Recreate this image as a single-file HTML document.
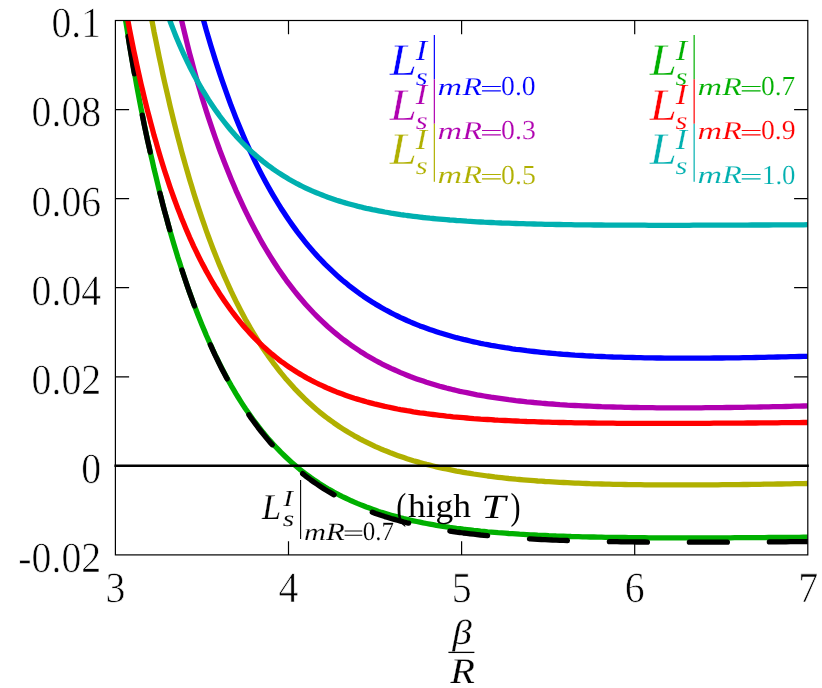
<!DOCTYPE html>
<html><head><meta charset="utf-8"><title>plot</title>
<style>html,body{margin:0;padding:0;background:#fff}svg{display:block}text{font-family:"Liberation Serif",serif;text-rendering:geometricPrecision}</style></head><body>
<svg width="822" height="688" viewBox="0 0 822 688">
<rect width="822" height="688" fill="#fff"/>
<defs><clipPath id="c"><rect x="115.4" y="20.5" width="692.4" height="534.4"/></clipPath></defs>
<g clip-path="url(#c)" fill="none" stroke-linejoin="round">
<path d="M183.6,-59.9 L185.6,-51.1 L187.6,-42.3 L189.6,-33.7 L191.7,-25.2 L193.7,-16.8 L195.8,-8.6 L197.9,-0.5 L200.0,7.5 L202.1,15.3 L204.3,23.0 L206.4,30.6 L208.6,38.0 L210.8,45.4 L213.0,52.6 L215.2,59.6 L217.5,66.6 L219.7,73.4 L222.0,80.1 L224.3,86.7 L226.6,93.2 L228.9,99.5 L231.2,105.8 L233.6,111.9 L235.9,117.9 L238.3,123.8 L240.7,129.6 L243.1,135.3 L245.5,140.9 L248.0,146.3 L250.4,151.7 L252.9,156.9 L255.4,162.1 L257.9,167.1 L260.4,172.1 L262.9,176.9 L265.5,181.7 L268.0,186.3 L270.6,190.9 L273.2,195.4 L275.8,199.7 L278.4,204.0 L281.0,208.2 L283.7,212.3 L286.3,216.3 L289.0,220.3 L291.7,224.1 L294.4,227.9 L297.1,231.6 L299.8,235.1 L302.6,238.7 L305.3,242.1 L308.1,245.5 L310.9,248.7 L313.7,252.0 L316.5,255.1 L319.3,258.2 L322.2,261.1 L325.0,264.1 L327.9,266.9 L330.8,269.7 L333.7,272.4 L336.6,275.1 L339.5,277.7 L342.4,280.2 L345.4,282.6 L348.3,285.1 L351.3,287.4 L354.3,289.7 L357.3,291.9 L360.3,294.1 L363.3,296.2 L366.3,298.2 L369.4,300.2 L372.5,302.2 L375.5,304.1 L378.6,305.9 L381.7,307.7 L384.8,309.5 L388.0,311.2 L391.1,312.9 L394.3,314.5 L397.4,316.0 L400.6,317.6 L403.8,319.0 L407.0,320.5 L410.2,321.9 L413.4,323.2 L416.7,324.6 L419.9,325.9 L423.2,327.1 L426.5,328.3 L429.8,329.5 L433.1,330.6 L436.4,331.7 L439.7,332.8 L443.1,333.8 L446.4,334.8 L449.8,335.8 L453.1,336.7 L456.5,337.7 L459.9,338.5 L463.3,339.4 L466.8,340.2 L470.2,341.0 L473.7,341.8 L477.1,342.5 L480.6,343.3 L484.1,344.0 L487.6,344.6 L491.1,345.3 L494.6,345.9 L498.1,346.5 L501.7,347.1 L505.2,347.7 L508.8,348.2 L512.4,348.8 L515.9,349.3 L519.5,349.7 L523.2,350.2 L526.8,350.7 L530.4,351.1 L534.1,351.5 L537.7,351.9 L541.4,352.3 L545.1,352.7 L548.8,353.0 L552.5,353.3 L556.2,353.7 L559.9,354.0 L563.6,354.3 L567.4,354.5 L571.1,354.8 L574.9,355.1 L578.7,355.3 L582.5,355.5 L586.3,355.8 L590.1,356.0 L593.9,356.2 L597.8,356.3 L601.6,356.5 L605.5,356.7 L609.4,356.8 L613.2,357.0 L617.1,357.1 L621.0,357.2 L625.0,357.3 L628.9,357.4 L632.8,357.5 L636.8,357.6 L640.7,357.7 L644.7,357.8 L648.7,357.9 L652.7,357.9 L656.7,358.0 L660.7,358.0 L664.7,358.1 L668.7,358.1 L672.8,358.1 L676.8,358.1 L680.9,358.1 L685.0,358.2 L689.1,358.2 L693.2,358.1 L697.3,358.1 L701.4,358.1 L705.5,358.1 L709.7,358.1 L713.8,358.0 L718.0,358.0 L722.2,358.0 L726.3,357.9 L730.5,357.9 L734.7,357.8 L739.0,357.8 L743.2,357.7 L747.4,357.6 L751.7,357.6 L755.9,357.5 L760.2,357.4 L764.5,357.3 L768.8,357.2 L773.1,357.1 L777.4,357.0 L781.7,356.9 L786.0,356.8 L790.3,356.7 L794.7,356.6 L799.1,356.5 L803.4,356.4 L807.8,356.3" stroke="#0000ff" stroke-width="5.3"/>
<path d="M166.5,-58.2 L168.3,-47.0 L170.1,-36.3 L172.0,-26.0 L173.9,-16.1 L175.8,-6.6 L177.7,2.7 L179.7,11.7 L181.6,20.4 L183.6,28.9 L185.6,37.2 L187.6,45.3 L189.6,53.3 L191.7,61.0 L193.7,68.6 L195.8,76.1 L197.9,83.4 L200.0,90.6 L202.1,97.7 L204.3,104.6 L206.4,111.4 L208.6,118.1 L210.8,124.7 L213.0,131.2 L215.2,137.5 L217.5,143.8 L219.7,150.0 L222.0,156.0 L224.3,162.0 L226.6,167.8 L228.9,173.6 L231.2,179.2 L233.6,184.8 L235.9,190.3 L238.3,195.6 L240.7,200.9 L243.1,206.1 L245.5,211.1 L248.0,216.1 L250.4,221.0 L252.9,225.8 L255.4,230.5 L257.9,235.1 L260.4,239.7 L262.9,244.1 L265.5,248.5 L268.0,252.7 L270.6,256.9 L273.2,261.0 L275.8,265.0 L278.4,269.0 L281.0,272.8 L283.7,276.6 L286.3,280.3 L289.0,283.9 L291.7,287.4 L294.4,290.9 L297.1,294.2 L299.8,297.5 L302.6,300.8 L305.3,303.9 L308.1,307.0 L310.9,310.0 L313.7,313.0 L316.5,315.8 L319.3,318.6 L322.2,321.4 L325.0,324.0 L327.9,326.7 L330.8,329.2 L333.7,331.7 L336.6,334.1 L339.5,336.5 L342.4,338.8 L345.4,341.0 L348.3,343.2 L351.3,345.3 L354.3,347.4 L357.3,349.4 L360.3,351.4 L363.3,353.3 L366.3,355.2 L369.4,357.0 L372.5,358.8 L375.5,360.5 L378.6,362.1 L381.7,363.8 L384.8,365.3 L388.0,366.9 L391.1,368.4 L394.3,369.8 L397.4,371.2 L400.6,372.6 L403.8,373.9 L407.0,375.2 L410.2,376.5 L413.4,377.7 L416.7,378.9 L419.9,380.0 L423.2,381.1 L426.5,382.2 L429.8,383.2 L433.1,384.2 L436.4,385.2 L439.7,386.2 L443.1,387.1 L446.4,388.0 L449.8,388.8 L453.1,389.7 L456.5,390.5 L459.9,391.3 L463.3,392.0 L466.8,392.7 L470.2,393.4 L473.7,394.1 L477.1,394.8 L480.6,395.4 L484.1,396.0 L487.6,396.6 L491.1,397.2 L494.6,397.7 L498.1,398.2 L501.7,398.7 L505.2,399.2 L508.8,399.7 L512.4,400.1 L515.9,400.6 L519.5,401.0 L523.2,401.4 L526.8,401.8 L530.4,402.1 L534.1,402.5 L537.7,402.8 L541.4,403.2 L545.1,403.5 L548.8,403.8 L552.5,404.0 L556.2,404.3 L559.9,404.6 L563.6,404.8 L567.4,405.1 L571.1,405.3 L574.9,405.5 L578.7,405.7 L582.5,405.9 L586.3,406.0 L590.1,406.2 L593.9,406.4 L597.8,406.5 L601.6,406.7 L605.5,406.8 L609.4,406.9 L613.2,407.0 L617.1,407.1 L621.0,407.2 L625.0,407.3 L628.9,407.4 L632.8,407.5 L636.8,407.5 L640.7,407.6 L644.7,407.6 L648.7,407.7 L652.7,407.7 L656.7,407.8 L660.7,407.8 L664.7,407.8 L668.7,407.8 L672.8,407.8 L676.8,407.8 L680.9,407.8 L685.0,407.8 L689.1,407.8 L693.2,407.8 L697.3,407.8 L701.4,407.8 L705.5,407.7 L709.7,407.7 L713.8,407.7 L718.0,407.6 L722.2,407.6 L726.3,407.5 L730.5,407.5 L734.7,407.4 L739.0,407.4 L743.2,407.3 L747.4,407.2 L751.7,407.1 L755.9,407.1 L760.2,407.0 L764.5,406.9 L768.8,406.8 L773.1,406.7 L777.4,406.6 L781.7,406.6 L786.0,406.5 L790.3,406.4 L794.7,406.2 L799.1,406.1 L803.4,406.0 L807.8,405.9" stroke="#b000b0" stroke-width="5.3"/>
<path d="M138.2,-57.0 L139.7,-47.8 L141.2,-38.7 L142.8,-29.7 L144.3,-20.6 L145.9,-11.7 L147.5,-2.8 L149.2,6.0 L150.8,14.8 L152.5,23.5 L154.1,32.1 L155.9,40.7 L157.6,49.1 L159.3,57.5 L161.1,65.8 L162.8,74.1 L164.6,82.2 L166.5,90.3 L168.3,98.2 L170.1,106.1 L172.0,113.9 L173.9,121.6 L175.8,129.1 L177.7,136.6 L179.7,144.0 L181.6,151.3 L183.6,158.5 L185.6,165.6 L187.6,172.6 L189.6,179.5 L191.7,186.3 L193.7,193.0 L195.8,199.6 L197.9,206.1 L200.0,212.4 L202.1,218.7 L204.3,224.9 L206.4,231.0 L208.6,237.0 L210.8,242.9 L213.0,248.7 L215.2,254.3 L217.5,259.9 L219.7,265.4 L222.0,270.8 L224.3,276.1 L226.6,281.3 L228.9,286.4 L231.2,291.4 L233.6,296.3 L235.9,301.1 L238.3,305.8 L240.7,310.5 L243.1,315.0 L245.5,319.5 L248.0,323.8 L250.4,328.1 L252.9,332.3 L255.4,336.4 L257.9,340.4 L260.4,344.3 L262.9,348.2 L265.5,351.9 L268.0,355.6 L270.6,359.2 L273.2,362.8 L275.8,366.2 L278.4,369.6 L281.0,372.9 L283.7,376.1 L286.3,379.3 L289.0,382.3 L291.7,385.3 L294.4,388.3 L297.1,391.1 L299.8,393.9 L302.6,396.7 L305.3,399.3 L308.1,402.0 L310.9,404.5 L313.7,407.0 L316.5,409.4 L319.3,411.8 L322.2,414.1 L325.0,416.3 L327.9,418.5 L330.8,420.6 L333.7,422.7 L336.6,424.7 L339.5,426.7 L342.4,428.6 L345.4,430.5 L348.3,432.3 L351.3,434.0 L354.3,435.8 L357.3,437.4 L360.3,439.1 L363.3,440.7 L366.3,442.2 L369.4,443.7 L372.5,445.2 L375.5,446.6 L378.6,447.9 L381.7,449.3 L384.8,450.6 L388.0,451.8 L391.1,453.1 L394.3,454.3 L397.4,455.4 L400.6,456.5 L403.8,457.6 L407.0,458.7 L410.2,459.7 L413.4,460.7 L416.7,461.6 L419.9,462.6 L423.2,463.5 L426.5,464.4 L429.8,465.2 L433.1,466.0 L436.4,466.8 L439.7,467.6 L443.1,468.3 L446.4,469.0 L449.8,469.7 L453.1,470.4 L456.5,471.1 L459.9,471.7 L463.3,472.3 L466.8,472.9 L470.2,473.4 L473.7,474.0 L477.1,474.5 L480.6,475.0 L484.1,475.5 L487.6,476.0 L491.1,476.4 L494.6,476.9 L498.1,477.3 L501.7,477.7 L505.2,478.1 L508.8,478.5 L512.4,478.8 L515.9,479.2 L519.5,479.5 L523.2,479.8 L526.8,480.1 L530.4,480.4 L534.1,480.7 L537.7,481.0 L541.4,481.2 L545.1,481.5 L548.8,481.7 L552.5,481.9 L556.2,482.1 L559.9,482.4 L563.6,482.5 L567.4,482.7 L571.1,482.9 L574.9,483.1 L578.7,483.2 L582.5,483.4 L586.3,483.5 L590.1,483.7 L593.9,483.8 L597.8,483.9 L601.6,484.0 L605.5,484.1 L609.4,484.2 L613.2,484.3 L617.1,484.4 L621.0,484.4 L625.0,484.5 L628.9,484.6 L632.8,484.6 L636.8,484.7 L640.7,484.7 L644.7,484.8 L648.7,484.8 L652.7,484.9 L656.7,484.9 L660.7,484.9 L664.7,484.9 L668.7,484.9 L672.8,484.9 L676.8,484.9 L680.9,484.9 L685.0,484.9 L689.1,484.9 L693.2,484.9 L697.3,484.9 L701.4,484.9 L705.5,484.9 L709.7,484.8 L713.8,484.8 L718.0,484.8 L722.2,484.7 L726.3,484.7 L730.5,484.7 L734.7,484.6 L739.0,484.6 L743.2,484.5 L747.4,484.5 L751.7,484.4 L755.9,484.4 L760.2,484.3 L764.5,484.2 L768.8,484.2 L773.1,484.1 L777.4,484.0 L781.7,484.0 L786.0,483.9 L790.3,483.8 L794.7,483.7 L799.1,483.6 L803.4,483.6 L807.8,483.5" stroke="#b0b000" stroke-width="5.3"/>
<path d="M114.9,-55.3 L116.0,-46.9 L117.1,-38.4 L118.3,-30.0 L119.5,-21.5 L120.6,-13.1 L121.9,-4.7 L123.1,3.7 L124.4,12.1 L125.6,20.4 L127.0,28.7 L128.3,37.0 L129.6,45.2 L131.0,53.4 L132.4,61.5 L133.8,69.6 L135.3,77.6 L136.7,85.6 L138.2,93.5 L139.7,101.4 L141.2,109.2 L142.8,116.9 L144.3,124.6 L145.9,132.2 L147.5,139.7 L149.2,147.2 L150.8,154.6 L152.5,161.9 L154.1,169.2 L155.9,176.4 L157.6,183.5 L159.3,190.6 L161.1,197.5 L162.8,204.4 L164.6,211.3 L166.5,218.0 L168.3,224.7 L170.1,231.2 L172.0,237.7 L173.9,244.2 L175.8,250.5 L177.7,256.8 L179.7,262.9 L181.6,269.0 L183.6,275.0 L185.6,281.0 L187.6,286.8 L189.6,292.5 L191.7,298.2 L193.7,303.8 L195.8,309.3 L197.9,314.7 L200.0,320.0 L202.1,325.2 L204.3,330.4 L206.4,335.5 L208.6,340.4 L210.8,345.3 L213.0,350.1 L215.2,354.9 L217.5,359.5 L219.7,364.1 L222.0,368.5 L224.3,372.9 L226.6,377.2 L228.9,381.4 L231.2,385.6 L233.6,389.6 L235.9,393.6 L238.3,397.5 L240.7,401.3 L243.1,405.1 L245.5,408.8 L248.0,412.3 L250.4,415.8 L252.9,419.3 L255.4,422.6 L257.9,425.9 L260.4,429.1 L262.9,432.3 L265.5,435.4 L268.0,438.4 L270.6,441.3 L273.2,444.2 L275.8,447.0 L278.4,449.7 L281.0,452.4 L283.7,455.0 L286.3,457.5 L289.0,460.0 L291.7,462.4 L294.4,464.7 L297.1,467.0 L299.8,469.3 L302.6,471.5 L305.3,473.6 L308.1,475.6 L310.9,477.7 L313.7,479.6 L316.5,481.5 L319.3,483.4 L322.2,485.2 L325.0,487.0 L327.9,488.7 L330.8,490.3 L333.7,492.0 L336.6,493.5 L339.5,495.1 L342.4,496.6 L345.4,498.0 L348.3,499.4 L351.3,500.8 L354.3,502.1 L357.3,503.4 L360.3,504.6 L363.3,505.8 L366.3,507.0 L369.4,508.1 L372.5,509.2 L375.5,510.3 L378.6,511.4 L381.7,512.4 L384.8,513.3 L388.0,514.3 L391.1,515.2 L394.3,516.1 L397.4,516.9 L400.6,517.8 L403.8,518.6 L407.0,519.3 L410.2,520.1 L413.4,520.8 L416.7,521.5 L419.9,522.2 L423.2,522.9 L426.5,523.5 L429.8,524.1 L433.1,524.7 L436.4,525.3 L439.7,525.8 L443.1,526.4 L446.4,526.9 L449.8,527.4 L453.1,527.8 L456.5,528.3 L459.9,528.7 L463.3,529.2 L466.8,529.6 L470.2,530.0 L473.7,530.4 L477.1,530.7 L480.6,531.1 L484.1,531.4 L487.6,531.8 L491.1,532.1 L494.6,532.4 L498.1,532.7 L501.7,532.9 L505.2,533.2 L508.8,533.5 L512.4,533.7 L515.9,533.9 L519.5,534.2 L523.2,534.4 L526.8,534.6 L530.4,534.8 L534.1,535.0 L537.7,535.2 L541.4,535.3 L545.1,535.5 L548.8,535.7 L552.5,535.8 L556.2,536.0 L559.9,536.1 L563.6,536.2 L567.4,536.3 L571.1,536.5 L574.9,536.6 L578.7,536.7 L582.5,536.8 L586.3,536.9 L590.1,537.0 L593.9,537.0 L597.8,537.1 L601.6,537.2 L605.5,537.3 L609.4,537.3 L613.2,537.4 L617.1,537.4 L621.0,537.5 L625.0,537.5 L628.9,537.6 L632.8,537.6 L636.8,537.7 L640.7,537.7 L644.7,537.7 L648.7,537.8 L652.7,537.8 L656.7,537.8 L660.7,537.8 L664.7,537.8 L668.7,537.9 L672.8,537.9 L676.8,537.9 L680.9,537.9 L685.0,537.9 L689.1,537.9 L693.2,537.9 L697.3,537.9 L701.4,537.9 L705.5,537.9 L709.7,537.8 L713.8,537.8 L718.0,537.8 L722.2,537.8 L726.3,537.8 L730.5,537.8 L734.7,537.7 L739.0,537.7 L743.2,537.7 L747.4,537.7 L751.7,537.7 L755.9,537.6 L760.2,537.6 L764.5,537.6 L768.8,537.5 L773.1,537.5 L777.4,537.5 L781.7,537.4 L786.0,537.4 L790.3,537.4 L794.7,537.3 L799.1,537.3 L803.4,537.2 L807.8,537.2" stroke="#00b000" stroke-width="5.3"/>
<path d="M114.9,-58.4 L116.0,-49.3 L117.1,-40.3 L118.3,-31.3 L119.5,-22.4 L120.6,-13.6 L121.9,-4.8 L123.1,3.8 L124.4,12.4 L125.6,20.9 L127.0,29.4 L128.3,37.7 L129.6,46.0 L131.0,54.2 L132.4,62.4 L133.8,70.5 L135.3,78.5 L136.7,86.4 L138.2,94.3 L139.7,102.1 L141.2,109.9 L142.8,117.6 L144.3,125.2 L145.9,132.7 L147.5,140.2 L149.2,147.6 L150.8,155.0 L152.5,162.3 L154.1,169.5 L155.9,176.6 L157.6,183.7 L159.3,190.7 L161.1,197.6 L162.8,204.5 L164.6,211.3 L166.5,218.0 L168.3,224.7 L170.1,231.2 L172.0,237.7 L173.9,244.1 L175.8,250.5 L177.7,256.7 L179.7,262.9 L181.6,269.0 L183.6,275.0 L185.6,281.0 L187.6,286.8 L189.6,292.6 L191.7,298.3 L193.7,303.9 L195.8,309.4 L197.9,314.9 L200.0,320.2 L202.1,325.5 L204.3,330.7 L206.4,335.8 L208.6,340.8 L210.8,345.7 L213.0,350.6 L215.2,355.4 L217.5,360.0 L219.7,364.6 L222.0,369.2 L224.3,373.6 L226.6,377.9 L228.9,382.2 L231.2,386.4 L233.6,390.5 L235.9,394.5 L238.3,398.5 L240.7,402.4 L243.1,406.1 L245.5,409.9 L248.0,413.5 L250.4,417.1 L252.9,420.5 L255.4,423.9 L257.9,427.3 L260.4,430.5 L262.9,433.7 L265.5,436.9 L268.0,439.9 L270.6,442.9 L273.2,445.8 L275.8,448.6 L278.4,451.4 L281.0,454.1 L283.7,456.8 L286.3,459.4 L289.0,461.9 L291.7,464.4 L294.4,466.8 L297.1,469.1 L299.8,471.4 L302.6,473.6 L305.3,475.8 L308.1,477.9 L310.9,480.0 L313.7,482.0 L316.5,483.9 L319.3,485.8 L322.2,487.7 L325.0,489.5 L327.9,491.2 L330.8,492.9 L333.7,494.6 L336.6,496.2 L339.5,497.8 L342.4,499.3 L345.4,500.8 L348.3,502.2 L351.3,503.6 L354.3,505.0 L357.3,506.3 L360.3,507.6 L363.3,508.8 L366.3,510.0 L369.4,511.2 L372.5,512.3 L375.5,513.5 L378.6,514.5 L381.7,515.6 L384.8,516.6 L388.0,517.5 L391.1,518.5 L394.3,519.4 L397.4,520.3 L400.6,521.1 L403.8,522.0 L407.0,522.8 L410.2,523.5 L413.4,524.3 L416.7,525.0 L419.9,525.7 L423.2,526.4 L426.5,527.1 L429.8,527.7 L433.1,528.3 L436.4,528.9 L439.7,529.5 L443.1,530.0 L446.4,530.6 L449.8,531.1 L453.1,531.6 L456.5,532.1 L459.9,532.5 L463.3,533.0 L466.8,533.4 L470.2,533.8 L473.7,534.2 L477.1,534.6 L480.6,535.0 L484.1,535.3 L487.6,535.7 L491.1,536.0 L494.6,536.3 L498.1,536.6 L501.7,536.9 L505.2,537.2 L508.8,537.5 L512.4,537.7 L515.9,538.0 L519.5,538.2 L523.2,538.5 L526.8,538.7 L530.4,538.9 L534.1,539.1 L537.7,539.3 L541.4,539.5 L545.1,539.6 L548.8,539.8 L552.5,540.0 L556.2,540.1 L559.9,540.3 L563.6,540.4 L567.4,540.5 L571.1,540.7 L574.9,540.8 L578.7,540.9 L582.5,541.0 L586.3,541.1 L590.1,541.2 L593.9,541.3 L597.8,541.4 L601.6,541.4 L605.5,541.5 L609.4,541.6 L613.2,541.7 L617.1,541.7 L621.0,541.8 L625.0,541.8 L628.9,541.9 L632.8,541.9 L636.8,542.0 L640.7,542.0 L644.7,542.0 L648.7,542.1 L652.7,542.1 L656.7,542.1 L660.7,542.1 L664.7,542.2 L668.7,542.2 L672.8,542.2 L676.8,542.2 L680.9,542.2 L685.0,542.2 L689.1,542.2 L693.2,542.2 L697.3,542.2 L701.4,542.2 L705.5,542.2 L709.7,542.2 L713.8,542.2 L718.0,542.2 L722.2,542.2 L726.3,542.2 L730.5,542.1 L734.7,542.1 L739.0,542.1 L743.2,542.1 L747.4,542.1 L751.7,542.0 L755.9,542.0 L760.2,542.0 L764.5,542.0 L768.8,541.9 L773.1,541.9 L777.4,541.9 L781.7,541.8 L786.0,541.8 L790.3,541.7 L794.7,541.7 L799.1,541.7 L803.4,541.6 L807.8,541.6" stroke="#000000" stroke-width="5.3" stroke-linecap="round" stroke-dasharray="38.0 42.0" stroke-dashoffset="64.28"/>
<path d="M114.9,-54.9 L116.0,-47.9 L117.1,-40.9 L118.3,-33.8 L119.5,-26.7 L120.6,-19.7 L121.9,-12.6 L123.1,-5.5 L124.4,1.6 L125.6,8.7 L127.0,15.8 L128.3,22.8 L129.6,29.8 L131.0,36.8 L132.4,43.8 L133.8,50.7 L135.3,57.5 L136.7,64.4 L138.2,71.1 L139.7,77.9 L141.2,84.5 L142.8,91.1 L144.3,97.7 L145.9,104.2 L147.5,110.6 L149.2,116.9 L150.8,123.2 L152.5,129.4 L154.1,135.6 L155.9,141.6 L157.6,147.6 L159.3,153.5 L161.1,159.4 L162.8,165.1 L164.6,170.8 L166.5,176.4 L168.3,181.9 L170.1,187.3 L172.0,192.7 L173.9,198.0 L175.8,203.2 L177.7,208.3 L179.7,213.3 L181.6,218.3 L183.6,223.1 L185.6,227.9 L187.6,232.6 L189.6,237.3 L191.7,241.8 L193.7,246.3 L195.8,250.7 L197.9,255.0 L200.0,259.2 L202.1,263.4 L204.3,267.4 L206.4,271.4 L208.6,275.3 L210.8,279.2 L213.0,283.0 L215.2,286.7 L217.5,290.3 L219.7,293.8 L222.0,297.3 L224.3,300.7 L226.6,304.0 L228.9,307.3 L231.2,310.5 L233.6,313.6 L235.9,316.7 L238.3,319.7 L240.7,322.6 L243.1,325.5 L245.5,328.3 L248.0,331.0 L250.4,333.7 L252.9,336.3 L255.4,338.9 L257.9,341.4 L260.4,343.8 L262.9,346.2 L265.5,348.5 L268.0,350.8 L270.6,353.0 L273.2,355.1 L275.8,357.2 L278.4,359.3 L281.0,361.3 L283.7,363.2 L286.3,365.1 L289.0,367.0 L291.7,368.8 L294.4,370.5 L297.1,372.3 L299.8,373.9 L302.6,375.5 L305.3,377.1 L308.1,378.7 L310.9,380.2 L313.7,381.6 L316.5,383.0 L319.3,384.4 L322.2,385.7 L325.0,387.0 L327.9,388.3 L330.8,389.5 L333.7,390.7 L336.6,391.9 L339.5,393.0 L342.4,394.1 L345.4,395.2 L348.3,396.2 L351.3,397.2 L354.3,398.2 L357.3,399.1 L360.3,400.0 L363.3,400.9 L366.3,401.8 L369.4,402.6 L372.5,403.4 L375.5,404.2 L378.6,404.9 L381.7,405.6 L384.8,406.4 L388.0,407.0 L391.1,407.7 L394.3,408.3 L397.4,409.0 L400.6,409.6 L403.8,410.1 L407.0,410.7 L410.2,411.2 L413.4,411.8 L416.7,412.3 L419.9,412.8 L423.2,413.2 L426.5,413.7 L429.8,414.1 L433.1,414.5 L436.4,414.9 L439.7,415.3 L443.1,415.7 L446.4,416.1 L449.8,416.4 L453.1,416.8 L456.5,417.1 L459.9,417.4 L463.3,417.7 L466.8,418.0 L470.2,418.3 L473.7,418.6 L477.1,418.8 L480.6,419.1 L484.1,419.3 L487.6,419.5 L491.1,419.7 L494.6,420.0 L498.1,420.2 L501.7,420.3 L505.2,420.5 L508.8,420.7 L512.4,420.9 L515.9,421.0 L519.5,421.2 L523.2,421.3 L526.8,421.5 L530.4,421.6 L534.1,421.7 L537.7,421.9 L541.4,422.0 L545.1,422.1 L548.8,422.2 L552.5,422.3 L556.2,422.4 L559.9,422.5 L563.6,422.5 L567.4,422.6 L571.1,422.7 L574.9,422.8 L578.7,422.8 L582.5,422.9 L586.3,422.9 L590.1,423.0 L593.9,423.0 L597.8,423.1 L601.6,423.1 L605.5,423.2 L609.4,423.2 L613.2,423.2 L617.1,423.3 L621.0,423.3 L625.0,423.3 L628.9,423.3 L632.8,423.4 L636.8,423.4 L640.7,423.4 L644.7,423.4 L648.7,423.4 L652.7,423.4 L656.7,423.4 L660.7,423.4 L664.7,423.4 L668.7,423.4 L672.8,423.4 L676.8,423.4 L680.9,423.4 L685.0,423.4 L689.1,423.4 L693.2,423.3 L697.3,423.3 L701.4,423.3 L705.5,423.3 L709.7,423.3 L713.8,423.2 L718.0,423.2 L722.2,423.2 L726.3,423.2 L730.5,423.1 L734.7,423.1 L739.0,423.1 L743.2,423.1 L747.4,423.0 L751.7,423.0 L755.9,423.0 L760.2,422.9 L764.5,422.9 L768.8,422.8 L773.1,422.8 L777.4,422.8 L781.7,422.7 L786.0,422.7 L790.3,422.6 L794.7,422.6 L799.1,422.6 L803.4,422.5 L807.8,422.5" stroke="#ff0000" stroke-width="5.3"/>
<path d="M149.2,-53.6 L150.8,-45.9 L152.5,-38.6 L154.1,-31.5 L155.9,-24.8 L157.6,-18.3 L159.3,-12.1 L161.1,-6.1 L162.8,-0.3 L164.6,5.3 L166.5,10.8 L168.3,16.1 L170.1,21.2 L172.0,26.2 L173.9,31.1 L175.8,35.9 L177.7,40.5 L179.7,45.1 L181.6,49.5 L183.6,53.9 L185.6,58.2 L187.6,62.3 L189.6,66.4 L191.7,70.4 L193.7,74.4 L195.8,78.2 L197.9,82.0 L200.0,85.7 L202.1,89.4 L204.3,92.9 L206.4,96.4 L208.6,99.9 L210.8,103.2 L213.0,106.5 L215.2,109.7 L217.5,112.9 L219.7,116.0 L222.0,119.0 L224.3,122.0 L226.6,124.9 L228.9,127.7 L231.2,130.5 L233.6,133.2 L235.9,135.9 L238.3,138.5 L240.7,141.0 L243.1,143.5 L245.5,145.9 L248.0,148.3 L250.4,150.6 L252.9,152.9 L255.4,155.1 L257.9,157.2 L260.4,159.3 L262.9,161.4 L265.5,163.4 L268.0,165.3 L270.6,167.2 L273.2,169.1 L275.8,170.9 L278.4,172.6 L281.0,174.3 L283.7,176.0 L286.3,177.6 L289.0,179.2 L291.7,180.7 L294.4,182.2 L297.1,183.7 L299.8,185.1 L302.6,186.5 L305.3,187.8 L308.1,189.1 L310.9,190.4 L313.7,191.6 L316.5,192.8 L319.3,193.9 L322.2,195.0 L325.0,196.1 L327.9,197.2 L330.8,198.2 L333.7,199.2 L336.6,200.2 L339.5,201.1 L342.4,202.0 L345.4,202.9 L348.3,203.7 L351.3,204.5 L354.3,205.3 L357.3,206.1 L360.3,206.8 L363.3,207.6 L366.3,208.3 L369.4,208.9 L372.5,209.6 L375.5,210.2 L378.6,210.8 L381.7,211.4 L384.8,212.0 L388.0,212.5 L391.1,213.1 L394.3,213.6 L397.4,214.1 L400.6,214.6 L403.8,215.0 L407.0,215.5 L410.2,215.9 L413.4,216.3 L416.7,216.7 L419.9,217.1 L423.2,217.5 L426.5,217.8 L429.8,218.2 L433.1,218.5 L436.4,218.8 L439.7,219.1 L443.1,219.4 L446.4,219.7 L449.8,220.0 L453.1,220.2 L456.5,220.5 L459.9,220.7 L463.3,220.9 L466.8,221.2 L470.2,221.4 L473.7,221.6 L477.1,221.8 L480.6,222.0 L484.1,222.2 L487.6,222.3 L491.1,222.5 L494.6,222.7 L498.1,222.8 L501.7,223.0 L505.2,223.1 L508.8,223.2 L512.4,223.4 L515.9,223.5 L519.5,223.6 L523.2,223.7 L526.8,223.8 L530.4,223.9 L534.1,224.0 L537.7,224.1 L541.4,224.2 L545.1,224.3 L548.8,224.3 L552.5,224.4 L556.2,224.5 L559.9,224.5 L563.6,224.6 L567.4,224.7 L571.1,224.7 L574.9,224.8 L578.7,224.8 L582.5,224.9 L586.3,224.9 L590.1,224.9 L593.9,225.0 L597.8,225.0 L601.6,225.0 L605.5,225.1 L609.4,225.1 L613.2,225.1 L617.1,225.1 L621.0,225.2 L625.0,225.2 L628.9,225.2 L632.8,225.2 L636.8,225.2 L640.7,225.2 L644.7,225.2 L648.7,225.3 L652.7,225.3 L656.7,225.3 L660.7,225.3 L664.7,225.3 L668.7,225.3 L672.8,225.3 L676.8,225.3 L680.9,225.3 L685.0,225.3 L689.1,225.3 L693.2,225.2 L697.3,225.2 L701.4,225.2 L705.5,225.2 L709.7,225.2 L713.8,225.2 L718.0,225.2 L722.2,225.2 L726.3,225.1 L730.5,225.1 L734.7,225.1 L739.0,225.1 L743.2,225.1 L747.4,225.1 L751.7,225.0 L755.9,225.0 L760.2,225.0 L764.5,225.0 L768.8,225.0 L773.1,224.9 L777.4,224.9 L781.7,224.9 L786.0,224.9 L790.3,224.8 L794.7,224.8 L799.1,224.8 L803.4,224.8 L807.8,224.7" stroke="#00b0b0" stroke-width="5.3"/>
</g>
<line x1="114.4" y1="465.7" x2="808.8" y2="465.7" stroke="#000" stroke-width="2.5"/>
<rect x="115.4" y="20.5" width="692.4" height="534.4" fill="none" stroke="#000" stroke-width="1.2"/>
<path d="M288.5,554.9 v-13.7 M288.5,20.5 v13.7 M461.6,554.9 v-13.7 M461.6,20.5 v13.7 M634.7,554.9 v-13.7 M634.7,20.5 v13.7 M115.4,109.6 h13.7 M807.8,109.6 h-13.7 M115.4,198.6 h13.7 M807.8,198.6 h-13.7 M115.4,287.7 h13.7 M807.8,287.7 h-13.7 M115.4,376.8 h13.7 M807.8,376.8 h-13.7 M115.4,465.8 h13.7 M807.8,465.8 h-13.7" stroke="#000" stroke-width="1.2" fill="none"/>
<g opacity="0.999">
<text transform="matrix(1 0 0 1.0804 101.20 37.40)" font-size="39.8" text-anchor="end" fill="#000" stroke="#fff" stroke-width="0.6">0.1</text>
<text transform="matrix(1 0 0 1.0804 101.20 126.47)" font-size="39.8" text-anchor="end" fill="#000" stroke="#fff" stroke-width="0.6">0.08</text>
<text transform="matrix(1 0 0 1.0804 101.20 215.53)" font-size="39.8" text-anchor="end" fill="#000" stroke="#fff" stroke-width="0.6">0.06</text>
<text transform="matrix(1 0 0 1.0804 101.20 304.60)" font-size="39.8" text-anchor="end" fill="#000" stroke="#fff" stroke-width="0.6">0.04</text>
<text transform="matrix(1 0 0 1.0804 101.20 393.67)" font-size="39.8" text-anchor="end" fill="#000" stroke="#fff" stroke-width="0.6">0.02</text>
<text transform="matrix(1 0 0 1.0804 101.20 482.73)" font-size="39.8" text-anchor="end" fill="#000" stroke="#fff" stroke-width="0.6">0</text>
<text transform="matrix(1 0 0 1.0804 101.20 571.80)" font-size="39.8" text-anchor="end" fill="#000" stroke="#fff" stroke-width="0.6">-0.02</text>
<text transform="matrix(1 0 0 1.0804 115.40 601.80)" font-size="39.8" text-anchor="middle" fill="#000" stroke="#fff" stroke-width="0.6">3</text>
<text transform="matrix(1 0 0 1.0804 288.50 601.80)" font-size="39.8" text-anchor="middle" fill="#000" stroke="#fff" stroke-width="0.6">4</text>
<text transform="matrix(1 0 0 1.0804 461.60 601.80)" font-size="39.8" text-anchor="middle" fill="#000" stroke="#fff" stroke-width="0.6">5</text>
<text transform="matrix(1 0 0 1.0804 634.70 601.80)" font-size="39.8" text-anchor="middle" fill="#000" stroke="#fff" stroke-width="0.6">6</text>
<text transform="matrix(1 0 0 1.0804 808.30 601.80)" font-size="39.8" text-anchor="middle" fill="#000" stroke="#fff" stroke-width="0.6">7</text>
<text transform="matrix(0.3860 0 0 0.3464 452.44 643.98)" font-size="100" fill="#000" font-style="italic" stroke="#fff" stroke-width="0.6" vector-effect="non-scaling-stroke">β</text>
<line x1="448.4" y1="652.4" x2="474.4" y2="652.4" stroke="#000" stroke-width="1.3"/>
<text transform="matrix(0.4047 0 0 0.3600 450.16 683.14)" font-size="100" fill="#000" font-style="italic" stroke="#fff" stroke-width="0.6" vector-effect="non-scaling-stroke">R</text>
<text transform="matrix(0.4869 0 0 0.4553 389.85 75.26)" font-size="100" fill="#0000ff" font-style="italic" stroke="#fff" stroke-width="0.9" vector-effect="non-scaling-stroke">L</text>
<text transform="matrix(0.3381 0 0 0.2913 415.84 59.94)" font-size="100" fill="#0000ff" font-style="italic" stroke="#fff" stroke-width="0.6" vector-effect="non-scaling-stroke">I</text>
<text transform="matrix(0.3067 0 0 0.2517 415.78 85.09)" font-size="100" fill="#0000ff" font-style="italic" stroke="#fff" stroke-width="0.6" vector-effect="non-scaling-stroke">s</text>
<line x1="434.35" y1="34.9" x2="434.35" y2="79.3" stroke="#0000ff" stroke-width="1.2"/>
<text transform="matrix(0.3405 0 0 0.2421 437.58 94.54)" font-size="100" fill="#0000ff" font-style="italic" stroke="#fff" stroke-width="0.6" vector-effect="non-scaling-stroke">m</text>
<text transform="matrix(0.3197 0 0 0.2577 462.42 94.54)" font-size="100" fill="#0000ff" font-style="italic" stroke="#fff" stroke-width="0.6" vector-effect="non-scaling-stroke">R</text>
<text transform="matrix(0.4043 0 0 0.2200 479.98 95.66)" font-size="100" fill="#0000ff">=</text>
<text transform="matrix(0.2764 0 0 0.2747 501.12 95.03)" font-size="100" fill="#0000ff" stroke="#fff" stroke-width="0.6" vector-effect="non-scaling-stroke">0.0</text>
<text transform="matrix(0.4869 0 0 0.4553 389.85 119.66)" font-size="100" fill="#b000b0" font-style="italic" stroke="#fff" stroke-width="0.9" vector-effect="non-scaling-stroke">L</text>
<text transform="matrix(0.3381 0 0 0.2913 415.84 104.34)" font-size="100" fill="#b000b0" font-style="italic" stroke="#fff" stroke-width="0.6" vector-effect="non-scaling-stroke">I</text>
<text transform="matrix(0.3067 0 0 0.2517 415.78 129.49)" font-size="100" fill="#b000b0" font-style="italic" stroke="#fff" stroke-width="0.6" vector-effect="non-scaling-stroke">s</text>
<line x1="434.35" y1="79.3" x2="434.35" y2="123.7" stroke="#b000b0" stroke-width="1.2"/>
<text transform="matrix(0.3405 0 0 0.2421 437.58 138.94)" font-size="100" fill="#b000b0" font-style="italic" stroke="#fff" stroke-width="0.6" vector-effect="non-scaling-stroke">m</text>
<text transform="matrix(0.3197 0 0 0.2577 462.42 138.94)" font-size="100" fill="#b000b0" font-style="italic" stroke="#fff" stroke-width="0.6" vector-effect="non-scaling-stroke">R</text>
<text transform="matrix(0.4043 0 0 0.2200 479.98 140.06)" font-size="100" fill="#b000b0">=</text>
<text transform="matrix(0.2770 0 0 0.2747 501.12 139.43)" font-size="100" fill="#b000b0" stroke="#fff" stroke-width="0.6" vector-effect="non-scaling-stroke">0.3</text>
<text transform="matrix(0.4869 0 0 0.4553 389.85 164.06)" font-size="100" fill="#b0b000" font-style="italic" stroke="#fff" stroke-width="0.9" vector-effect="non-scaling-stroke">L</text>
<text transform="matrix(0.3381 0 0 0.2913 415.84 148.74)" font-size="100" fill="#b0b000" font-style="italic" stroke="#fff" stroke-width="0.6" vector-effect="non-scaling-stroke">I</text>
<text transform="matrix(0.3067 0 0 0.2517 415.78 173.89)" font-size="100" fill="#b0b000" font-style="italic" stroke="#fff" stroke-width="0.6" vector-effect="non-scaling-stroke">s</text>
<line x1="434.35" y1="123.7" x2="434.35" y2="181.7" stroke="#b0b000" stroke-width="1.2"/>
<text transform="matrix(0.3405 0 0 0.2421 437.58 183.34)" font-size="100" fill="#b0b000" font-style="italic" stroke="#fff" stroke-width="0.6" vector-effect="non-scaling-stroke">m</text>
<text transform="matrix(0.3197 0 0 0.2577 462.42 183.34)" font-size="100" fill="#b0b000" font-style="italic" stroke="#fff" stroke-width="0.6" vector-effect="non-scaling-stroke">R</text>
<text transform="matrix(0.4043 0 0 0.2200 479.98 184.46)" font-size="100" fill="#b0b000">=</text>
<text transform="matrix(0.2770 0 0 0.2747 501.12 183.83)" font-size="100" fill="#b0b000" stroke="#fff" stroke-width="0.6" vector-effect="non-scaling-stroke">0.5</text>
<text transform="matrix(0.4869 0 0 0.4553 649.65 75.26)" font-size="100" fill="#00b000" font-style="italic" stroke="#fff" stroke-width="0.9" vector-effect="non-scaling-stroke">L</text>
<text transform="matrix(0.3381 0 0 0.2913 675.64 59.94)" font-size="100" fill="#00b000" font-style="italic" stroke="#fff" stroke-width="0.6" vector-effect="non-scaling-stroke">I</text>
<text transform="matrix(0.3067 0 0 0.2517 675.58 85.09)" font-size="100" fill="#00b000" font-style="italic" stroke="#fff" stroke-width="0.6" vector-effect="non-scaling-stroke">s</text>
<line x1="694.15" y1="34.9" x2="694.15" y2="79.3" stroke="#00b000" stroke-width="1.2"/>
<text transform="matrix(0.3405 0 0 0.2421 697.38 94.54)" font-size="100" fill="#00b000" font-style="italic" stroke="#fff" stroke-width="0.6" vector-effect="non-scaling-stroke">m</text>
<text transform="matrix(0.3197 0 0 0.2577 722.22 94.54)" font-size="100" fill="#00b000" font-style="italic" stroke="#fff" stroke-width="0.6" vector-effect="non-scaling-stroke">R</text>
<text transform="matrix(0.4043 0 0 0.2200 739.78 95.66)" font-size="100" fill="#00b000">=</text>
<text transform="matrix(0.2747 0 0 0.2747 760.93 95.03)" font-size="100" fill="#00b000" stroke="#fff" stroke-width="0.6" vector-effect="non-scaling-stroke">0.7</text>
<text transform="matrix(0.4869 0 0 0.4553 649.65 119.66)" font-size="100" fill="#ff0000" font-style="italic" stroke="#fff" stroke-width="0.9" vector-effect="non-scaling-stroke">L</text>
<text transform="matrix(0.3381 0 0 0.2913 675.64 104.34)" font-size="100" fill="#ff0000" font-style="italic" stroke="#fff" stroke-width="0.6" vector-effect="non-scaling-stroke">I</text>
<text transform="matrix(0.3067 0 0 0.2517 675.58 129.49)" font-size="100" fill="#ff0000" font-style="italic" stroke="#fff" stroke-width="0.6" vector-effect="non-scaling-stroke">s</text>
<line x1="694.15" y1="79.3" x2="694.15" y2="123.7" stroke="#ff0000" stroke-width="1.2"/>
<text transform="matrix(0.3405 0 0 0.2421 697.38 138.94)" font-size="100" fill="#ff0000" font-style="italic" stroke="#fff" stroke-width="0.6" vector-effect="non-scaling-stroke">m</text>
<text transform="matrix(0.3197 0 0 0.2577 722.22 138.94)" font-size="100" fill="#ff0000" font-style="italic" stroke="#fff" stroke-width="0.6" vector-effect="non-scaling-stroke">R</text>
<text transform="matrix(0.4043 0 0 0.2200 739.78 140.06)" font-size="100" fill="#ff0000">=</text>
<text transform="matrix(0.2770 0 0 0.2747 760.92 139.43)" font-size="100" fill="#ff0000" stroke="#fff" stroke-width="0.6" vector-effect="non-scaling-stroke">0.9</text>
<text transform="matrix(0.4869 0 0 0.4553 649.65 164.06)" font-size="100" fill="#00b0b0" font-style="italic" stroke="#fff" stroke-width="0.9" vector-effect="non-scaling-stroke">L</text>
<text transform="matrix(0.3381 0 0 0.2913 675.64 148.74)" font-size="100" fill="#00b0b0" font-style="italic" stroke="#fff" stroke-width="0.6" vector-effect="non-scaling-stroke">I</text>
<text transform="matrix(0.3067 0 0 0.2517 675.58 173.89)" font-size="100" fill="#00b0b0" font-style="italic" stroke="#fff" stroke-width="0.6" vector-effect="non-scaling-stroke">s</text>
<line x1="694.15" y1="123.7" x2="694.15" y2="181.7" stroke="#00b0b0" stroke-width="1.2"/>
<text transform="matrix(0.3405 0 0 0.2421 697.38 183.34)" font-size="100" fill="#00b0b0" font-style="italic" stroke="#fff" stroke-width="0.6" vector-effect="non-scaling-stroke">m</text>
<text transform="matrix(0.3197 0 0 0.2577 722.22 183.34)" font-size="100" fill="#00b0b0" font-style="italic" stroke="#fff" stroke-width="0.6" vector-effect="non-scaling-stroke">R</text>
<text transform="matrix(0.4043 0 0 0.2200 739.78 184.46)" font-size="100" fill="#00b0b0">=</text>
<text transform="matrix(0.2674 0 0 0.2747 762.02 183.83)" font-size="100" fill="#00b0b0" stroke="#fff" stroke-width="0.6" vector-effect="non-scaling-stroke">1.0</text>
<text transform="matrix(0.3438 0 0 0.3646 262.09 519.14)" font-size="100" fill="#000" font-style="italic" stroke="#fff" stroke-width="0.6" vector-effect="non-scaling-stroke">L</text>
<text transform="matrix(0.2901 0 0 0.2302 283.13 506.34)" font-size="100" fill="#000" font-style="italic" stroke="#fff" stroke-width="0.6" vector-effect="non-scaling-stroke">I</text>
<text transform="matrix(0.2951 0 0 0.2225 282.69 526.22)" font-size="100" fill="#000" font-style="italic" stroke="#fff" stroke-width="0.6" vector-effect="non-scaling-stroke">s</text>
<line x1="300.6" y1="480" x2="300.6" y2="539" stroke="#000" stroke-width="1.1"/>
<text transform="matrix(0.3047 0 0 0.2379 304.02 539.74)" font-size="100" fill="#000" font-style="italic" stroke="#fff" stroke-width="0.6" vector-effect="non-scaling-stroke">m</text>
<text transform="matrix(0.3063 0 0 0.2485 326.11 539.74)" font-size="100" fill="#000" font-style="italic" stroke="#fff" stroke-width="0.6" vector-effect="non-scaling-stroke">R</text>
<text transform="matrix(0.3785 0 0 0.2080 342.81 540.42)" font-size="100" fill="#000">=</text>
<text transform="matrix(0.2501 0 0 0.2629 362.72 540.15)" font-size="100" fill="#000" stroke="#fff" stroke-width="0.6" vector-effect="non-scaling-stroke">0.7</text>
<text transform="matrix(0.3020 0 0 0.3791 396.34 519.34)" font-size="100" fill="#000">(</text>
<text transform="matrix(0.3544 0 0 0.3319 408.05 517.36)" font-size="100" fill="#000">high</text>
<text transform="matrix(0.4309 0 0 0.3420 481.50 517.70)" font-size="100" fill="#000" font-style="italic">T</text>
<text transform="matrix(0.3029 0 0 0.3791 510.52 519.34)" font-size="100" fill="#000">)</text>
</g>
</svg></body></html>
